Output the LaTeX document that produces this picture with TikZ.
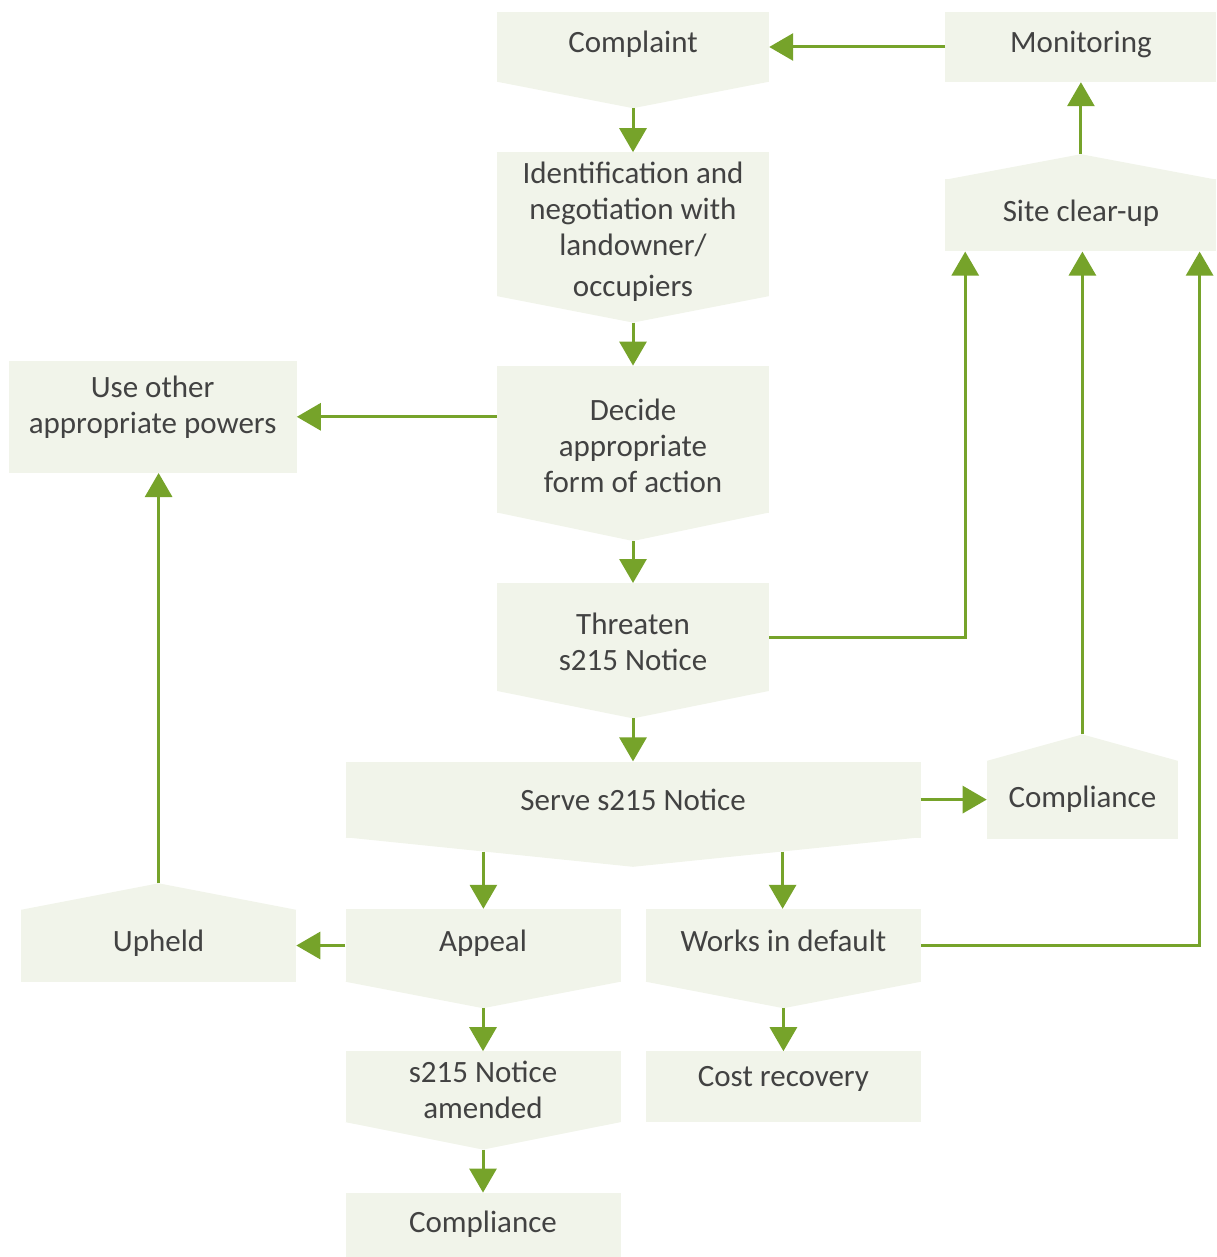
\documentclass[tikz,border=0pt]{standalone}
\usepackage{fontspec}
\setmainfont{Carlito}
\usepackage{tikz}
\usetikzlibrary{arrows.meta, positioning, calc, backgrounds}
\definecolor{boxfill}{HTML}{F1F4EA}
\definecolor{arrowgreen}{HTML}{76A32A}
\definecolor{textgray}{HTML}{424242}
\tikzstyle{block} = [rectangle, fill=boxfill, text=textgray, minimum width=272pt, align=center, inner sep=0pt, font=\fontsize{31}{36}\selectfont]
\tikzstyle{oneline} = [text height=22pt, text depth=10pt]
\tikzstyle{arrow} = [line width=3pt, arrowgreen, -{Triangle[width=27pt,length=24pt]}]
% pointed box ends
\newcommand{\tipdown}[2]{\fill[boxfill] ($(#1.south west)+(0,0.5pt)$) -- ($(#1.south east)+(0,0.5pt)$) -- ($(#1.south)+(0,-#2)$) coordinate (#1 tip) -- cycle;}
\newcommand{\tipup}[2]{\fill[boxfill] ($(#1.north west)+(0,-0.5pt)$) -- ($(#1.north east)+(0,-0.5pt)$) -- ($(#1.north)+(0,#2)$) coordinate (#1 tip) -- cycle;}

\begin{document}
\begin{tikzpicture}
    \useasboundingbox (0,0) rectangle (1216pt,-1257pt);
    % Main column
    
\node[block, oneline, minimum height=70pt] (complaint) at (633pt,-47pt) {Complaint};
    
\node[block, minimum height=144pt, text height=144pt, text depth=0pt, below=70pt of complaint] (ident) {Identification and\\negotiation with\\landowner/\\[5pt]occupiers};
    
\node[block, minimum height=147pt, text height=106pt, below=69pt of ident] (decide) {Decide\\appropriate\\form of action};
    
\node[block, minimum height=108pt, text height=66pt, below=70pt of decide] (threaten) {Threaten\\s215 Notice};
    
\node[block, minimum width=575pt, minimum height=76pt, below=70pt of threaten] (serve) {Serve s215 Notice};
    
    % Right column
    
\node[block, oneline, minimum width=271pt, minimum height=70pt, right=176pt of complaint] (monitoring) {Monitoring};
    
\node[block, oneline, minimum width=271pt, minimum height=72pt, below=97pt of monitoring] (site) {Site clear-up};
    
\node[block, minimum width=191pt, minimum height=78pt, right=66pt of serve] (compright) {Compliance};
    
    % Left column and lower rows
    
\node[block, minimum width=288pt, minimum height=112pt, text height=38pt, left=200pt of decide.north west, anchor=north east, yshift=5pt] (powers) {Use other\\appropriate powers};
    
\node[block, oneline, minimum width=275pt, minimum height=73pt, below=71pt of serve.south west, anchor=north west] (appeal) {Appeal};
    
\node[block, oneline, minimum width=275pt, minimum height=73pt, right=25pt of appeal] (works) {Works in default};
    
\node[block, oneline, minimum width=275pt, minimum height=72pt, left=49pt of appeal] (upheld) {Upheld};
    
\node[block, minimum width=275pt, minimum height=71pt, text height=64pt, text depth=0pt, below=69pt of appeal] (amended) {s215 Notice\\amended};
    
\node[block, oneline, text depth=22pt, minimum width=275pt, minimum height=71pt, below=69pt of works] (cost) {Cost recovery};
    
\node[block, oneline, minimum width=275pt, minimum height=67pt, below=70pt of amended] (compbottom) {Compliance};
    
    % Pointers
    \begin{scope}[on background layer]
    \tipdown{complaint}{26pt}
    \tipdown{ident}{26pt}
    \tipdown{decide}{28pt}
    \tipdown{threaten}{27pt}
    \tipdown{serve}{29pt}
    \tipdown{appeal}{26pt}
    \tipdown{works}{26pt}
    \tipdown{amended}{27pt}
    \tipup{site}{25pt}
    \tipup{compright}{26pt}
    \tipup{upheld}{26pt}
    \end{scope}
    \coordinate (serve left) at ($(serve.south west)!0.48!(serve tip)$);
    \coordinate (serve right) at ($(serve.south east)!0.48!(serve tip)$);
    
    % Arrows
    \draw[arrow] (monitoring) -- (complaint);
    \draw[arrow] (complaint tip) -- (ident);
    \draw[arrow] (ident tip) -- (decide);
    \draw[arrow] (decide.west |- powers.east) -- (powers.east);
    \draw[arrow] (decide tip) -- (threaten);
    \draw[arrow] (threaten tip) -- (serve);
    \draw[arrow] (serve) -- (compright);
    \draw[arrow] (threaten.east) -| ($(site.south west)+(20pt,0)$);
    \draw[arrow] (compright tip) -- (compright tip |- site.south);
    \draw[arrow] (works.east) -| ($(site.south east)+(-17pt,0)$);
    \draw[arrow] (site tip) -- (monitoring);
    \draw[arrow] (serve left) -- (serve left |- appeal.north);
    \draw[arrow] (serve right) -- (serve right |- works.north);
    \draw[arrow] (appeal) -- (upheld);
    \draw[arrow] (upheld tip) -- (upheld tip |- powers.south);
    \draw[arrow] (appeal tip) -- (amended);
    \draw[arrow] (amended tip) -- (compbottom);
    \draw[arrow] (works tip) -- (cost);
\end{tikzpicture}
\end{document}
